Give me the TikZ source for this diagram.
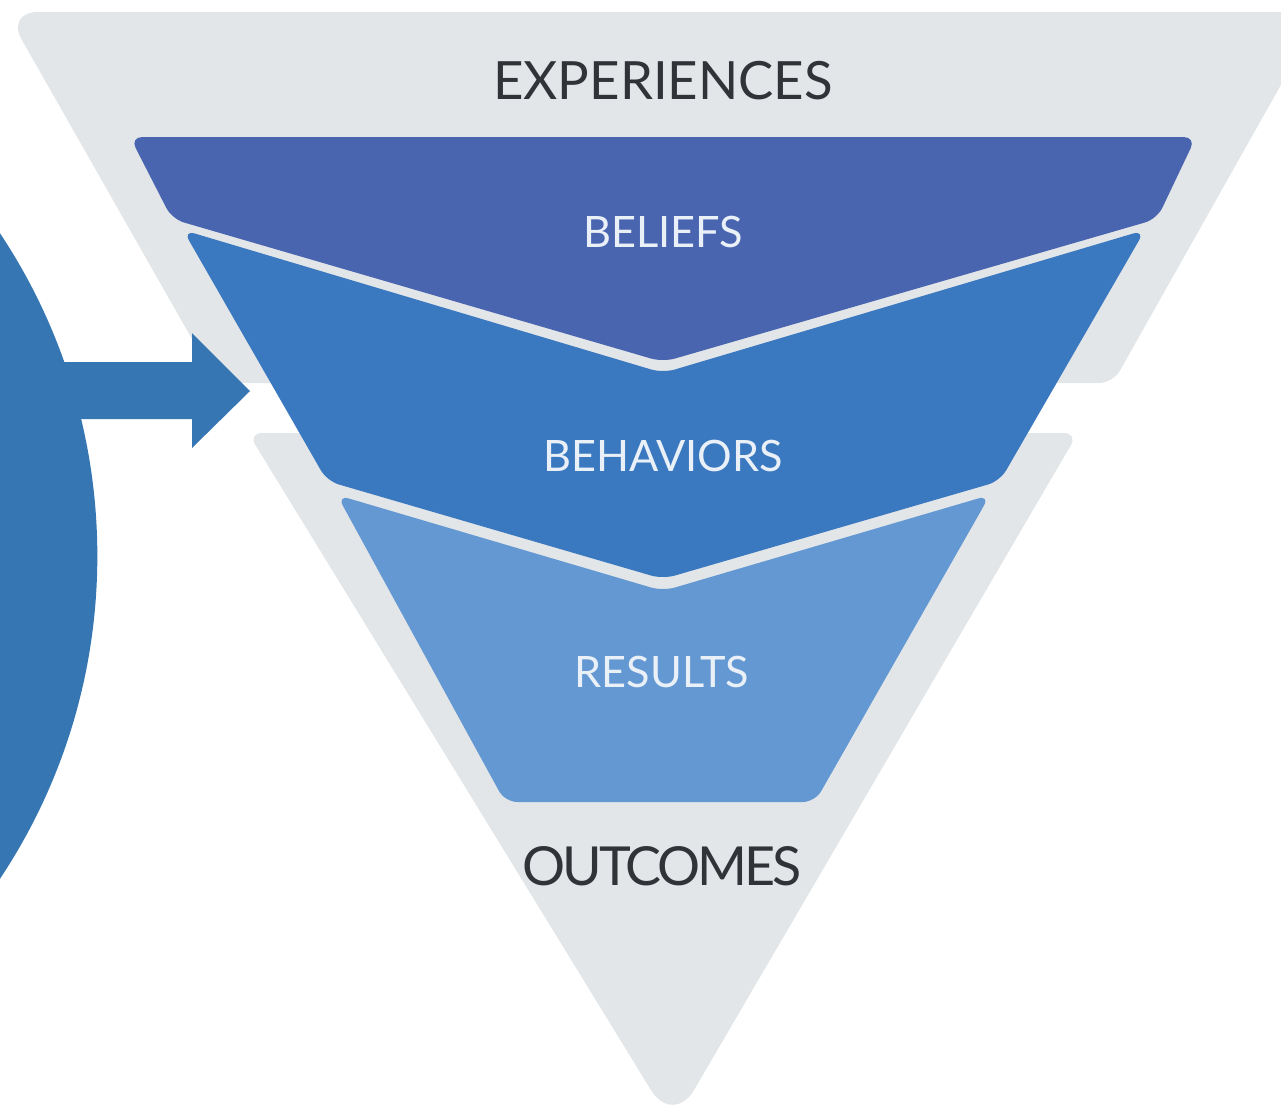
\documentclass[tikz,border=0pt]{standalone}
\usepackage{fontspec}
\setmainfont{Lato}
\definecolor{panelgray}{HTML}{E3E6E8}
\definecolor{beliefblue}{HTML}{4A65B0}
\definecolor{behavblue}{HTML}{3A78C0}
\definecolor{resultblue}{HTML}{6398D2}
\definecolor{pushblue}{HTML}{3676B2}
\definecolor{darktext}{HTML}{303438}
\definecolor{lighttext}{HTML}{EAF0F8}
\tikzset{
	panel/.style={fill=panelgray, rounded corners=4pt},
	layer/.style={rounded corners=3.5pt},
	darklabel/.style={inner sep=0pt, text=darktext, font=\fontsize{15}{18}\selectfont},
	lightlabel/.style={inner sep=0pt, text=lighttext, font=\fontsize{12.3}{15}\selectfont}
}
\begin{document}
\begin{tikzpicture}[x=0.01cm, y=-0.01cm]
	\useasboundingbox (0,0) rectangle (1281,1108);
	\clip (0,0) rectangle (1281,1108);

	\fill[panel] (217,383) [rounded corners=9pt] -- (6,12) -- (1322,12) [rounded corners=4pt] -- (1113,383) -- cycle;
	\fill[panel] (248,433) -- (1078,433) [rounded corners=12pt] -- (673,1126) [rounded corners=4pt] -- cycle;

	\fill[pushblue] (-486,556) circle [radius=5.83cm];
	\fill[pushblue] (40,362) -- (192,362) -- (192,333) -- (250,391) -- (192,448) -- (192,419) -- (40,419) -- cycle;

	\fill[layer, beliefblue] (130,137) -- (1196,137) -- (1157,219) -- (663,362) -- (172,219) -- cycle;
	\fill[layer, behavblue] (183,230) -- (663,373) -- (1145,230) -- (1000,481) -- (663,579) -- (327,481) -- cycle;
	\fill[layer, resultblue] (337,495) -- (663,591) -- (990,495) -- (815,802) -- (505,802) -- cycle;

	\node (Experiences) [darklabel] at (663,81) {EXPERIENCES};
	\node (Beliefs) [lightlabel] at (663,232) {BELIEFS};
	\node (Behaviors) [lightlabel] at (663,456) {BEHAVIORS};
	\node (Results) [lightlabel] at (662,672) {RESULTS};
	\node (Outcomes) [darklabel, font=\fontsize{15.3}{18}\selectfont\addfontfeature{LetterSpace=-6}] at (662,866) {OUTCOMES};
\end{tikzpicture}
\end{document}
